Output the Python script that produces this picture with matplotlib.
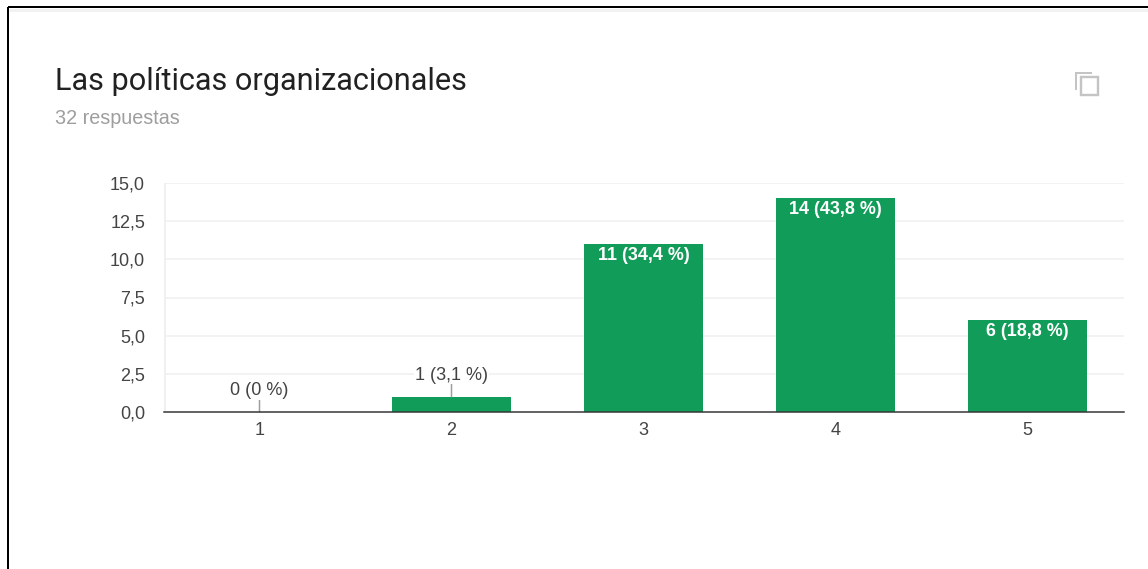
#!/usr/bin/env python3
import matplotlib
matplotlib.use('Agg')
import matplotlib.pyplot as plt
from matplotlib.lines import Line2D
from matplotlib.patches import Rectangle

categories = ['1', '2', '3', '4', '5']
counts = [0, 1, 11, 14, 6]
labels = ['0 (0 %)', '1 (3,1 %)', '11 (34,4 %)', '14 (43,8 %)', '6 (18,8 %)']
y_ticks = [0, 2.5, 5, 7.5, 10, 12.5, 15]
y_tick_labels = ['0,0', '2,5', '5,0', '7,5', '10,0', '12,5', '15,0']
title = 'Las políticas organizacionales'
subtitle = '32 respuestas'

W, H = 1148, 569
GREEN = '#129c59'
PX = 72 / 100  # one pixel in points
SANS = ['Liberation Sans', 'DejaVu Sans']

plt.rcParams['font.family'] = ['Roboto', 'DejaVu Sans']


def fx(x):
    return x / W


def fy(y):
    return 1 - y / H


def fig_line(fig, xs, ys, color, lw):
    fig.add_artist(Line2D([fx(x) for x in xs], [fy(y) for y in ys],
                          color=color, linewidth=lw * PX, solid_capstyle='butt',
                          solid_joinstyle='miter'))


fig = plt.figure(figsize=(W / 100, H / 100), dpi=100, facecolor='white')

# screenshot frame
fig_line(fig, [8, 8], [H, 7], 'black', 2)
fig_line(fig, [8, W], [7, 7], 'black', 2)
fig_line(fig, [9, W], [10, 10], '#f2f2f2', 3)

fig.text(fx(55), fy(81), title, fontsize=22.1, color='#212121', va='center', ha='left')
fig.text(fx(55), fy(118), subtitle, fontsize=14.2, color='#9e9e9e', va='center', ha='left',
         family=SANS)

# copy icon
fig.add_artist(Rectangle((fx(1081), fy(95)), 17 / W, 18 / H, fill=False,
                         edgecolor='#c4c4c4', linewidth=2.4 * PX))
fig_line(fig, [1076, 1076, 1092], [90, 73, 73], '#c4c4c4', 2)

ax = fig.add_axes([fx(163.5), fy(412), 960 / W, 229 / H])
ax.set_xlim(-0.5, 4.5)
ax.set_ylim(0, 15)
ax.set_facecolor('white')

for tick in y_ticks[1:]:
    ax.axhline(tick, color='#f0f0f0', linewidth=1.5 * PX, zorder=1)
ax.axvline(-0.5, color='#f0f0f0', linewidth=3 * PX, zorder=1)

xs = list(range(len(categories)))
ax.bar(xs, counts, width=0.622, color=GREEN, zorder=2)

for x, count, label in zip(xs, counts, labels):
    if count < 2:
        # small bars get the label above them, on a leader line
        ax.annotate('', xy=(x, count), xytext=(0, 16 * PX), textcoords='offset points',
                    arrowprops=dict(arrowstyle='-', color='#9e9e9e', linewidth=1.5 * PX,
                                    shrinkA=0, shrinkB=0), zorder=3)
        ax.annotate(label, xy=(x, count), xytext=(0, 21.5 * PX), textcoords='offset points',
                    ha='center', va='center', fontsize=13, color='#424242', zorder=4,
                    family=SANS, bbox=dict(facecolor='white', edgecolor='none', pad=0.5))
    else:
        ax.annotate(label, xy=(x, count), xytext=(0, -11.5 * PX), textcoords='offset points',
                    ha='center', va='center', fontsize=12.9, color='white',
                    fontweight='bold', family=SANS, zorder=4)

ax.set_xticks(xs, categories, family=SANS)
ax.set_yticks(y_ticks, y_tick_labels, family=SANS)
ax.tick_params(axis='both', length=0, labelsize=13, labelcolor='#444444')
ax.tick_params(axis='x', pad=7)
ax.tick_params(axis='y', pad=18.5 * PX)

for side in ['top', 'right', 'left']:
    ax.spines[side].set_visible(False)
ax.spines['bottom'].set_color('#333333')
ax.spines['bottom'].set_linewidth(1.5 * PX)
ax.spines['bottom'].set_zorder(5)

plt.savefig('out.png', dpi=100)
plt.close()
